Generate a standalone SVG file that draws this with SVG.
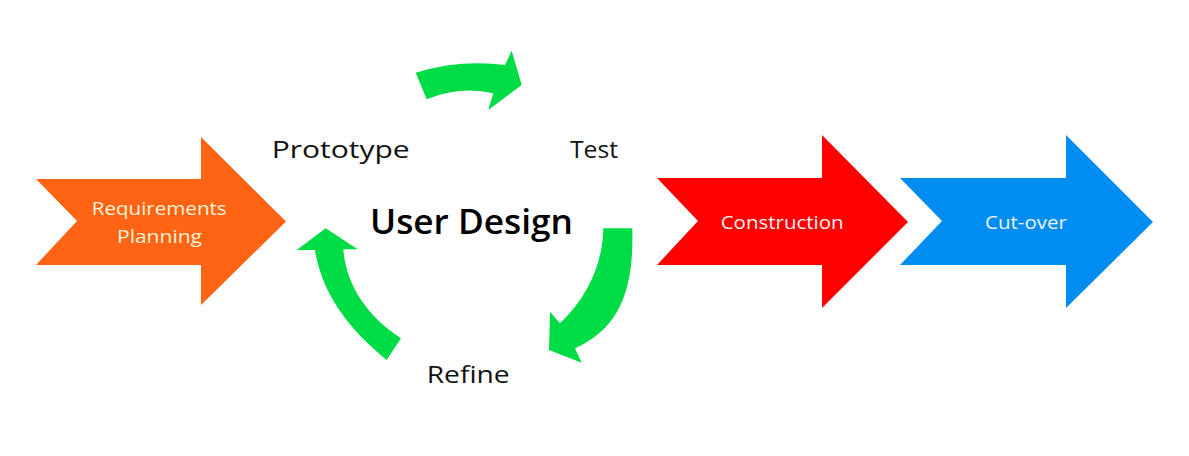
<svg xmlns="http://www.w3.org/2000/svg" width="1189" height="456" viewBox="0 0 1189 456">
<style>
  .lbl { font-family: "Open Sans", "Liberation Sans", sans-serif; fill: #111; font-size: 24px; }
  .title { font-family: "Open Sans", "Liberation Sans", sans-serif; fill: #000; font-size: 34px; font-weight: 600; }
  .in { font-family: "Open Sans", "Liberation Sans", sans-serif; font-size: 18px; }
  .cyc { fill: #00DC46; }
</style>
<rect width="1189" height="456" fill="#ffffff"/>
<g id="requirements-planning">
  <path d="M36,179 L201,179 L201,137 L286,221.5 L201,305 L201,265 L36,265 L77,221 Z" fill="#FF6414"/>
  <text class="in" fill="#FFF2D6" x="91.7" y="215" textLength="135" lengthAdjust="spacingAndGlyphs">Requirements</text>
  <text class="in" fill="#FFF2D6" x="117" y="243.3" textLength="85" lengthAdjust="spacingAndGlyphs">Planning</text>
</g>
<g id="construction">
  <path d="M657,178 L822,178 L822,135 L908,222 L822,308 L822,265 L657,265 L698,221 Z" fill="#FF0000"/>
  <text class="in" fill="#FFF0F0" x="720.7" y="229.3" textLength="123" lengthAdjust="spacingAndGlyphs">Construction</text>
</g>
<g id="cut-over">
  <path d="M900,178 L1066,178 L1066,135 L1153,222 L1066,308 L1066,265 L900,265 L942,221 Z" fill="#008CF0"/>
  <text class="in" fill="#EAF4FF" x="985" y="229.3" textLength="82" lengthAdjust="spacingAndGlyphs">Cut-over</text>
</g>
<g id="user-design">
  <text class="title" x="370" y="234.3" textLength="203" lengthAdjust="spacingAndGlyphs">User Design</text>
</g>
<g id="prototype">
  <text class="lbl" x="271.7" y="158" textLength="138" lengthAdjust="spacingAndGlyphs">Prototype</text>
</g>
<g id="test">
  <text class="lbl" x="570" y="158" textLength="48" lengthAdjust="spacingAndGlyphs">Test</text>
</g>
<g id="refine">
  <text class="lbl" x="426.7" y="383.3" textLength="83" lengthAdjust="spacingAndGlyphs">Refine</text>
</g>
<g id="connectors">
  <path class="cyc" d="M415.7,72.7 Q459.6,59.2 505,65 L511.7,50.7 L521.7,85 L488.3,110 L493.3,93.3 Q460,85.7 426.7,99.3 Z"/>
  <path class="cyc" d="M603.3,228.3 L632.3,228.3 C634,290 620,328 575,348.3 L581.7,362.7 L549,350 L550,311.7 L560,323.3 C590,295 603,260 603.3,228.3 Z"/>
  <path class="cyc" d="M386.7,360 C350,330 322,295 315,250 L296.7,250 L325.7,228.3 L357.7,249.3 L343.3,249.3 C346,283 365,315 401,338.3 Z"/>
</g>
</svg>
